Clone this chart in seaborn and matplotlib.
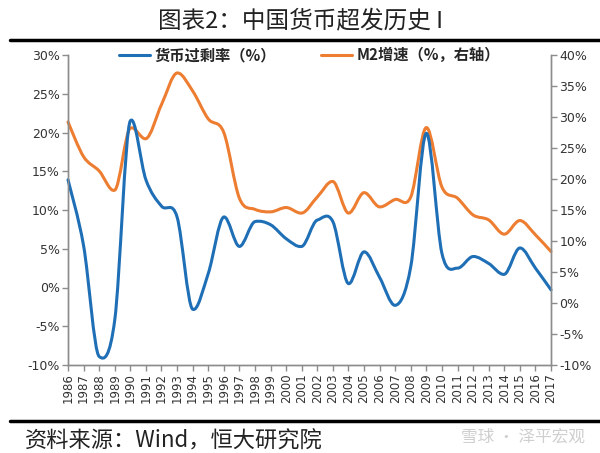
import numpy as np
import pandas as pd
import matplotlib
matplotlib.use("Agg")
import matplotlib.pyplot as plt
from matplotlib.path import Path
from matplotlib.patches import PathPatch
from matplotlib.lines import Line2D
import seaborn as sns

years = list(range(1986, 2018))
excess_rate = [13.9, 5.4, -8.9, -4.2, 21.5, 13.9, 10.5, 9.1, -2.8, 1.8,
               9.1, 5.3, 8.5, 8.1, 6.3, 5.3, 8.7, 8.5, 0.5, 4.6,
               1.3, -2.3, 2.7, 19.9, 4.4, 2.5, 4.0, 3.1, 1.7, 5.1,
               2.5, -0.3]
m2_growth = [29.2, 23.6, 21.3, 18.2, 28.2, 26.5, 32.0, 37.1, 34.2, 29.7,
             27.5, 16.9, 15.1, 14.7, 15.4, 14.5, 17.1, 19.6, 14.5, 17.8,
             15.5, 16.7, 17.1, 28.3, 18.7, 16.9, 14.2, 13.4, 11.1, 13.3,
             11.0, 8.3]
left_ticks = [-10, -5, 0, 5, 10, 15, 20, 25, 30]
right_ticks = [-10, -5, 0, 5, 10, 15, 20, 25, 30, 35, 40]
label_excess = "货币过剩率（%）"
label_m2 = "M2增速（%，右轴）"
title = "图表2：中国货币超发历史 I"
source = "资料来源：Wind，恒大研究院"

BLUE = "#1f6fb6"
ORANGE = "#ed7d31"
GRAY = "#8c8c8c"

sns.set_theme(style="white")
plt.rcParams["font.family"] = ["DejaVu Sans", "Noto Sans CJK SC"]
CJK = ["Noto Sans CJK SC", "DejaVu Sans"]

df = pd.DataFrame({"year": years, "excess": excess_rate, "m2": m2_growth})

fig = plt.figure(figsize=(6.0, 4.53), dpi=100)
ax = fig.add_axes([68 / 600, 1 - 365 / 453, (551 - 68) / 600, 310 / 453])
ax2 = ax.twinx()

sns.lineplot(data=df, x="year", y="excess", ax=ax, color=BLUE, lw=2.2,
             label=label_excess, legend=False)
sns.lineplot(data=df, x="year", y="m2", ax=ax2, color=ORANGE, lw=2.2,
             label=label_m2, legend=False)


def smooth_path(xy):
    """Cubic Bezier through the data points (smoothed line style)."""
    n = len(xy)
    tang = np.zeros_like(xy)
    for i in range(n):
        a = xy[max(i - 1, 0)]
        b = xy[min(i + 1, n - 1)]
        t = (b - a) / 2.0
        if 0 < i < n - 1:
            d1 = xy[i, 1] - xy[i - 1, 1]
            d2 = xy[i + 1, 1] - xy[i, 1]
            if d1 * d2 <= 0:
                t[1] *= 0.35
        tang[i] = t
    verts = [xy[0]]
    codes = [Path.MOVETO]
    for i in range(n - 1):
        p1, p2 = xy[i], xy[i + 1]
        verts += [p1 + tang[i] / 3, p2 - tang[i + 1] / 3, p2]
        codes += [Path.CURVE4] * 3
    return Path(verts, codes)


ax.set_zorder(ax2.get_zorder() + 1)
ax.patch.set_visible(False)

ax.set_xlim(1986, 2017)
ax.set_ylim(-10, 30)
ax2.set_ylim(-10, 40)
ax.set_yticks(left_ticks)
ax.set_yticklabels([f"{t}%" for t in left_ticks])
ax2.set_yticks(right_ticks)
ax2.set_yticklabels([f"{t}%" for t in right_ticks])
ax.set_xticks(years)
ax.set_xticklabels([str(y) for y in years], rotation=90)
ax.set_xlabel("")
ax.set_ylabel("")
ax2.set_ylabel("")

for a in (ax, ax2):
    a.grid(False)
    a.spines["top"].set_visible(False)
    for s in ("left", "right", "bottom"):
        a.spines[s].set_color(GRAY)
        a.spines[s].set_linewidth(1.0)
    a.tick_params(axis="both", which="both", direction="out", length=4,
                  width=1.0, color=GRAY, labelcolor="#333333", pad=2)
ax.tick_params(axis="y", labelsize=9, left=True)
ax2.tick_params(axis="y", labelsize=9, right=True)
ax.tick_params(axis="x", labelsize=8.5, bottom=True, pad=2)

handles = [ax.lines[0], ax2.lines[0]]
leg = ax.legend(handles, [label_excess, label_m2], loc="center",
                bbox_to_anchor=(0.5, 1.0), ncol=2, frameon=False,
                handlelength=2.0, columnspacing=3.0, handletextpad=0.3,
                prop={"family": CJK, "size": 11, "weight": "bold"})

for a, col in ((ax, BLUE), (ax2, ORANGE)):
    line = a.lines[0]
    xy = np.asarray(line.get_xydata(), dtype=float)
    patch = PathPatch(smooth_path(xy), transform=a.transData, fc="none",
                      ec=col, lw=2.2, capstyle="round", joinstyle="round",
                      clip_on=False)
    a.add_patch(patch)
    line.set_visible(False)

fig.text(0.5, 1 - 21 / 453, title, ha="center", va="center", fontsize=17,
         family=CJK, color="#222222")
fig.add_artist(Line2D([10 / 600, 1.0], [1 - 40 / 453] * 2, color="black",
                      lw=2.5, transform=fig.transFigure))
fig.add_artist(Line2D([10 / 600, 1.0], [1 - 421 / 453] * 2, color="black",
                      lw=2.5, transform=fig.transFigure))
fig.text(25 / 600, 1 - 441 / 453, source, ha="left", va="center",
         fontsize=16, family=CJK, style="italic", color="#222222")
fig.text(585 / 600, 1 - 437 / 453, "雪球 · 泽平宏观", ha="right", va="center",
         fontsize=12, family=CJK, color="#cfcfcf")

fig.savefig("out.png", dpi=100, facecolor="white")
